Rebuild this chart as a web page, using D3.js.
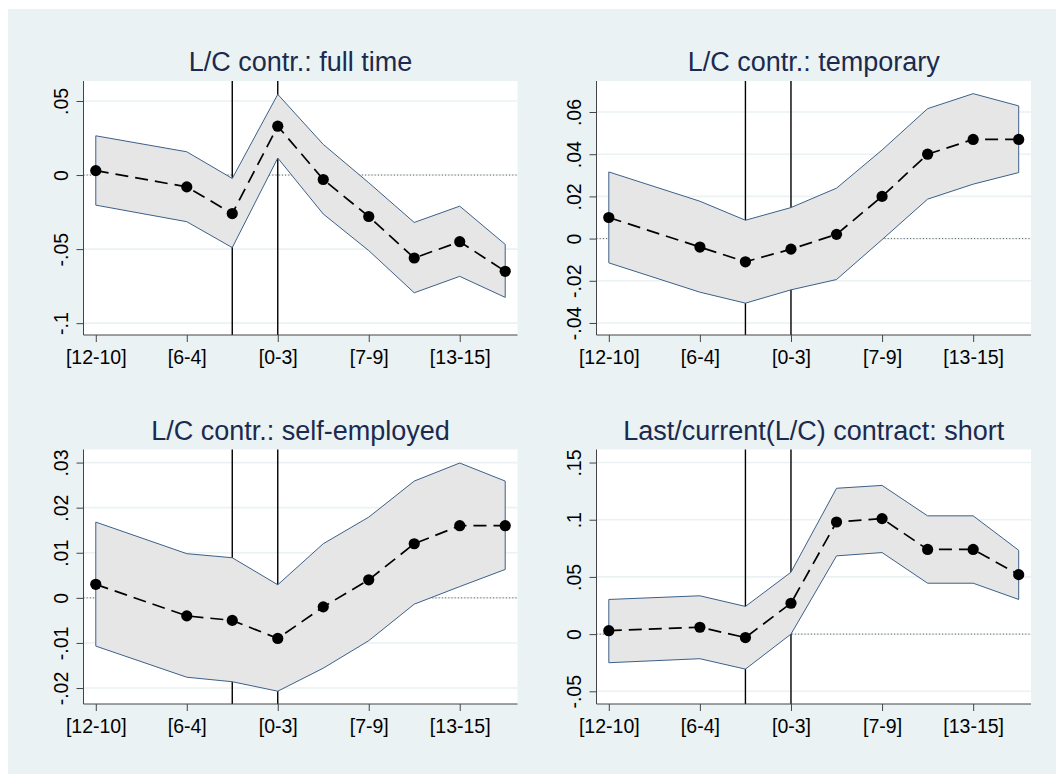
<!DOCTYPE html>
<html>
<head>
<meta charset="utf-8">
<script src="https://cdn.jsdelivr.net/npm/d3@7"></script>
<style>
  body { margin: 0; background: #ffffff; }
  svg { display: block; font-family: "Liberation Sans", Arial, sans-serif; }
</style>
</head>
<body>
<div id="chart"></div>
<script>
// periods on the x axis (-4 = [12-10], 0 = [0-3], ...)
const xPos = [-4, -2, -1, 0, 1, 2, 3, 4, 5];
const xTicks = [-4, -2, 0, 2, 4];
const xTickLabels = ["[12-10]", "[6-4]", "[0-3]", "[7-9]", "[13-15]"];
const eventLines = [-1, 0];

const titles = [
    "L/C contr.: full time",
    "L/C contr.: temporary",
    "L/C contr.: self-employed",
    "Last/current(L/C) contract: short"
];

// full time
const fullCoef = [0.003, -0.008, -0.026, 0.033, -0.003, -0.028, -0.056, -0.045, -0.065];
const fullHi = [0.0265, 0.0157, -0.0023, 0.0545, 0.0207, -0.0052, -0.032, -0.021, -0.0468];
const fullLo = [-0.0203, -0.0315, -0.049, 0.0115, -0.0263, -0.051, -0.0795, -0.0684, -0.0826];
const fullTicks = [-0.1, -0.05, 0, 0.05];

// temporary
const tempCoef = [0.010, -0.004, -0.011, -0.005, 0.002, 0.020, 0.040, 0.047, 0.047];
const tempHi = [0.0316, 0.0177, 0.0087, 0.0147, 0.0239, 0.042, 0.0616, 0.0687, 0.0629];
const tempLo = [-0.0115, -0.0254, -0.0306, -0.0243, -0.0194, -0.0005, 0.0187, 0.0258, 0.0313];
const tempTicks = [-0.04, -0.02, 0, 0.02, 0.04, 0.06];

// self-employed
const selfCoef = [0.003, -0.004, -0.005, -0.009, -0.002, 0.004, 0.012, 0.016, 0.016];
const selfHi = [0.0168, 0.0098, 0.0089, 0.0029, 0.012, 0.0179, 0.0259, 0.0299, 0.0259];
const selfLo = [-0.0107, -0.0176, -0.0186, -0.0207, -0.0156, -0.0095, -0.0014, 0.0025, 0.0063];
const selfTicks = [-0.02, -0.01, 0, 0.01, 0.02, 0.03];

// short
const shortCoef = [0.003, 0.006, -0.003, 0.027, 0.098, 0.101, 0.074, 0.074, 0.052];
const shortHi = [0.0303, 0.0335, 0.0242, 0.0541, 0.1275, 0.130, 0.1034, 0.1034, 0.0733];
const shortLo = [-0.025, -0.0215, -0.0306, 0.0, 0.0684, 0.0713, 0.0445, 0.0445, 0.0303];
const shortTicks = [-0.05, 0, 0.05, 0.1, 0.15];

const W = 1056, H = 774;

const panels = [
    { title: titles[0], coef: fullCoef, hi: fullHi, lo: fullLo, ticks: fullTicks, ydom: [-0.108, 0.0635], x0: 83.5, x1: 517.5, y0: 81, y1: 335 },
    { title: titles[1], coef: tempCoef, hi: tempHi, lo: tempLo, ticks: tempTicks, ydom: [-0.0457, 0.0747], x0: 596.5, x1: 1031, y0: 81, y1: 335 },
    { title: titles[2], coef: selfCoef, hi: selfHi, lo: selfLo, ticks: selfTicks, ydom: [-0.02354, 0.0329], x0: 83.5, x1: 517.5, y0: 449.5, y1: 704 },
    { title: titles[3], coef: shortCoef, hi: shortHi, lo: shortLo, ticks: shortTicks, ydom: [-0.0611, 0.1614], x0: 596.5, x1: 1031, y0: 449.5, y1: 704 }
];

// Stata style labels: no leading zero, plain hyphen
const fmt = v => {
    if (Math.abs(v) < 1e-12) return "0";
    return String(+v.toFixed(4)).replace(/^(-?)0\./, "$1.");
};

const svg = d3.select("#chart").append("svg")
    .attr("width", W)
    .attr("height", H);

svg.append("rect")
    .attr("x", 8).attr("y", 9)
    .attr("width", W - 8).attr("height", H - 9)
    .attr("fill", "#eaf2f3");

const drawPanel = (p) => {
    let x = d3.scaleLinear().domain([-4.27, 5.27]).range([p.x0, p.x1]);
    let y = d3.scaleLinear().domain(p.ydom).range([p.y1, p.y0]);
    let g = svg.append("g");

    g.append("rect")
        .attr("x", p.x0).attr("y", p.y0)
        .attr("width", p.x1 - p.x0).attr("height", p.y1 - p.y0)
        .attr("fill", "#ffffff");

    // grid lines
    g.selectAll("line.grid")
        .data(p.ticks)
        .enter()
        .append("line")
        .attr("class", "grid")
        .attr("x1", p.x0).attr("x2", p.x1)
        .attr("y1", d => y(d)).attr("y2", d => y(d))
        .attr("stroke", "#eaf2f3")
        .attr("stroke-width", 1.6);

    // zero line
    g.append("line")
        .attr("x1", p.x0).attr("x2", p.x1)
        .attr("y1", y(0)).attr("y2", y(0))
        .attr("stroke", "#555")
        .attr("stroke-width", 1)
        .attr("stroke-dasharray", "1,2.2");

    // event lines
    g.selectAll("line.event")
        .data(eventLines)
        .enter()
        .append("line")
        .attr("x1", d => x(d)).attr("x2", d => x(d))
        .attr("y1", p.y0).attr("y2", p.y1)
        .attr("stroke", "#000")
        .attr("stroke-width", 1.4);

    // confidence band
    let band = xPos.map((d, i) => ({ x: d, lo: p.lo[i], hi: p.hi[i] }));
    g.append("path")
        .datum(band)
        .attr("fill", "#e6e6e6")
        .attr("stroke", "#3d6089")
        .attr("stroke-width", 1)
        .attr("d", d3.area().x(d => x(d.x)).y0(d => y(d.lo)).y1(d => y(d.hi)));

    let pts = xPos.map((d, i) => ({ x: d, v: p.coef[i] }));
    g.append("path")
        .datum(pts)
        .attr("fill", "none")
        .attr("stroke", "#000")
        .attr("stroke-width", 1.7)
        .attr("stroke-dasharray", "13,7")
        .attr("d", d3.line().x(d => x(d.x)).y(d => y(d.v)));

    g.selectAll("circle")
        .data(pts)
        .enter()
        .append("circle")
        .attr("cx", d => x(d.x))
        .attr("cy", d => y(d.v))
        .attr("r", 5.6)
        .attr("fill", "#000");

    // axes
    let xAxis = g.append("g")
        .attr("transform", `translate(0,${p.y1})`)
        .call(d3.axisBottom(x).tickValues(xTicks).tickSize(7).tickSizeOuter(0)
            .tickFormat((d, i) => xTickLabels[i]));
    xAxis.select(".domain").attr("stroke", "#444").attr("d", `M${p.x0},0H${p.x1}`);
    xAxis.selectAll(".tick line").attr("stroke", "#444");
    xAxis.selectAll(".tick text")
        .attr("y", 29).attr("dy", 0)
        .attr("fill", "#000")
        .attr("font-size", 19.5)
        .attr("font-family", "Liberation Sans, Arial, sans-serif");

    let yAxis = g.append("g")
        .attr("transform", `translate(${p.x0},0)`)
        .call(d3.axisLeft(y).tickValues(p.ticks).tickSize(7).tickSizeOuter(0).tickFormat(fmt));
    yAxis.select(".domain").attr("stroke", "#444").attr("d", `M0,${p.y0}V${p.y1}`);
    yAxis.selectAll(".tick line").attr("stroke", "#444");
    yAxis.selectAll(".tick text")
        .attr("x", null).attr("dy", null)
        .attr("transform", "translate(-16,0) rotate(-90)")
        .attr("text-anchor", "middle")
        .attr("fill", "#000")
        .attr("font-size", 19.5)
        .attr("font-family", "Liberation Sans, Arial, sans-serif");

    // title
    g.append("text")
        .attr("x", (p.x0 + p.x1) / 2)
        .attr("y", p.y0 - 10)
        .attr("text-anchor", "middle")
        .attr("font-size", 27)
        .attr("fill", "#1b2a4e")
        .text(p.title);
};

panels.forEach(drawPanel);
</script>
</body>
</html>
